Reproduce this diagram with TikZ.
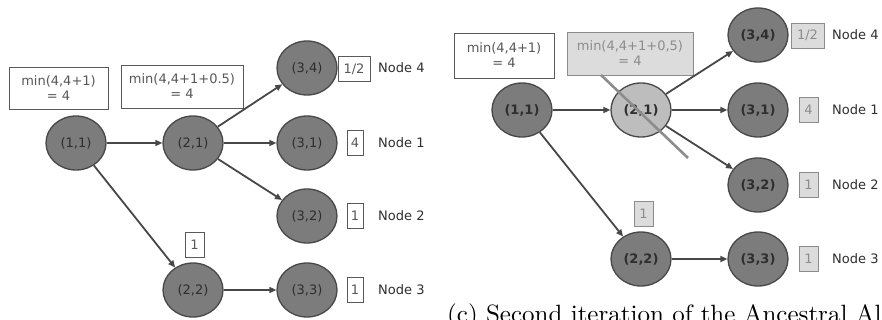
\documentclass[tikz,border=0pt]{standalone}
\usepackage{fontspec}
\setsansfont{DejaVu Sans}
\newfontfamily\capfont{lmroman10-regular.otf}
\usetikzlibrary{shapes.geometric,arrows.meta}
\definecolor{nodefill}{HTML}{7C7C7C}
\definecolor{nodeedge}{HTML}{474747}
\definecolor{lightfill}{HTML}{BDBDBD}
\definecolor{boxedge}{HTML}{5A5A5A}
\definecolor{ink}{HTML}{2E2E2E}
\definecolor{faded}{HTML}{8C8C8C}
\definecolor{fadedfill}{HTML}{DCDCDC}
\tikzset{
  state/.style={ellipse, draw=nodeedge, line width=1.3pt, fill=nodefill,
    minimum width=60pt, minimum height=54pt, inner sep=0pt,
    font=\sffamily\fontsize{13}{13}\selectfont, text=ink},
  lightstate/.style={state, fill=lightfill},
  calcbox/.style={draw=boxedge, line width=0.9pt, fill=white, inner sep=0pt,
    align=center, font=\sffamily\fontsize{13}{15}\selectfont, text=ink!80},
  fadedbox/.style={calcbox, draw=faded, fill=fadedfill, text=faded},
  valbox/.style={draw=boxedge, line width=0.9pt, fill=white, inner sep=0pt,
    minimum height=25pt, font=\sffamily\fontsize{13}{13}\selectfont, text=ink!80},
  fadedval/.style={valbox, draw=faded, fill=fadedfill, text=faded},
  tag/.style={anchor=west, inner sep=0pt, font=\sffamily\fontsize{13}{13}\selectfont, text=ink},
  flow/.style={-{Triangle[length=7pt,width=6pt]}, draw=nodeedge, line width=1.8pt},
}
\begin{document}
\begin{tikzpicture}[x=1pt,y=-1pt]
\useasboundingbox (0,0) rectangle (882,320);
\clip (0,0) rectangle (882,320);

% ---------- first tree ----------
\node[state] (a11) at (76,143) {(1,1)};
\node[state] (a21) at (193,143) {(2,1)};
\node[state] (a34) at (307,68) {(3,4)};
\node[state] (a31) at (307,143) {(3,1)};
\node[state] (a32) at (307,216) {(3,2)};
\node[state] (a22) at (193,290) {(2,2)};
\node[state] (a33) at (307,290) {(3,3)};

\node[calcbox, minimum width=99pt, minimum height=42pt] (aca) at (58.5,88) {min(4,4+1)\\= 4};
\node[calcbox, minimum width=122pt, minimum height=43pt] (acb) at (182,86.5) {min(4,4+1+0.5)\\= 4};

\node[valbox, minimum width=32pt] (av4) at (354,69) {1/2};
\node[valbox, minimum width=16pt] (av1) at (355,143) {4};
\node[valbox, minimum width=16pt] (av2) at (355,216) {1};
\node[valbox, minimum width=16pt] (av3) at (355,290) {1};
\node[valbox, minimum width=19pt] (av22) at (194.5,245) {1};

\node[tag] (at4) at (378,68) {Node 4};
\node[tag] (at1) at (378,143) {Node 1};
\node[tag] (at2) at (378,216) {Node 2};
\node[tag] (at3) at (378,290) {Node 3};

\draw[flow] (a11) -- (a21);
\draw[flow] (a21) -- (a34);
\draw[flow] (a21) -- (a31);
\draw[flow] (a21) -- (a32);
\draw[flow] (a11) -- (a22);
\draw[flow] (a22) -- (a33);

% ---------- second tree ----------
\node[state, font=\sffamily\bfseries\fontsize{13}{13}\selectfont] (b11) at (522,110) {(1,1)};
\node[lightstate, font=\sffamily\bfseries\fontsize{13}{13}\selectfont] (b21) at (641,110) {(2,1)};
\node[state, font=\sffamily\bfseries\fontsize{13}{13}\selectfont] (b34) at (758,35) {(3,4)};
\node[state, font=\sffamily\bfseries\fontsize{13}{13}\selectfont] (b31) at (758,110) {(3,1)};
\node[state, font=\sffamily\bfseries\fontsize{13}{13}\selectfont] (b32) at (758,185) {(3,2)};
\node[state, font=\sffamily\bfseries\fontsize{13}{13}\selectfont] (b22) at (641,259) {(2,2)};
\node[state, font=\sffamily\bfseries\fontsize{13}{13}\selectfont] (b33) at (758,259) {(3,3)};

\node[calcbox, minimum width=100pt, minimum height=45pt] (bca) at (504,55.5) {min(4,4+1)\\= 4};
\node[fadedbox, minimum width=126pt, minimum height=43pt] (bcb) at (630,53.5) {min(4,4+1+0,5)\\= 4};

\node[fadedval, minimum width=33pt] (bv4) at (807.5,35.5) {1/2};
\node[fadedval, minimum width=19pt] (bv1) at (808.5,110) {4};
\node[fadedval, minimum width=19pt] (bv2) at (808.5,185) {1};
\node[fadedval, minimum width=19pt] (bv3) at (808.5,259) {1};
\node[fadedval, minimum width=19pt] (bv22) at (643.5,213.5) {1};

\node[tag] (bt4) at (832,35) {Node 4};
\node[tag] (bt1) at (832,110) {Node 1};
\node[tag] (bt2) at (832,185) {Node 2};
\node[tag] (bt3) at (832,259) {Node 3};

\draw[flow] (b11) -- (b21);
\draw[flow] (b21) -- (b34);
\draw[flow] (b21) -- (b31);
\draw[flow] (b21) -- (b32);
\draw[flow] (b11) -- (b22);
\draw[flow] (b22) -- (b33);

% pruned branch strike-through
\coordinate (cutA) at (601,75);
\coordinate (cutB) at (688,158);
\draw[draw=faded, line width=2.6pt] (cutA) -- (cutB);

% caption, running past the right edge
\node[anchor=base west, inner sep=0pt, font=\capfont\fontsize{25}{25}\selectfont] (cap) at (447,322)
  {(c) Second iteration of the Ancestral Algorithm};
\end{tikzpicture}
\end{document}
